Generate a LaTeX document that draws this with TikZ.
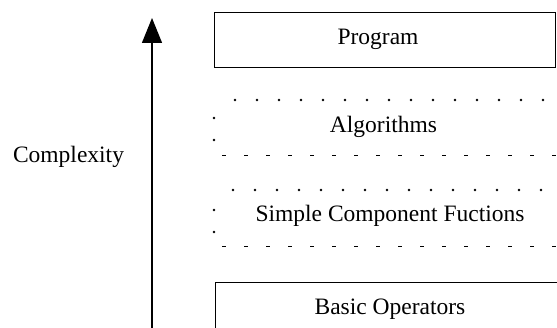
\documentclass[tikz,border=0pt]{standalone}
\usepackage{fontspec}
\setmainfont{Liberation Serif}
\usetikzlibrary{arrows.meta}

\begin{document}
\begin{tikzpicture}[x=1pt,y=-1pt,
  level/.style={draw,line width=1.3pt,inner sep=0pt,anchor=north west},
  open level/.style={inner sep=0pt,anchor=north west},
  caption/.style={anchor=base,inner sep=0pt,font=\fontsize{23.5}{26}\selectfont},
  dotrule/.style={line width=2.8pt,line cap=round,dash pattern=on 0pt off 22pt},
  dashrule/.style={line width=1.6pt,dash pattern=on 3.5pt off 18.5pt}]
\useasboundingbox (0,0) rectangle (557,328);
\clip (0,0) rectangle (557,328);

% the four levels, top to bottom
\node[level,minimum width=341pt,minimum height=55pt] (prog) at (214,12) {};
\node[open level,minimum width=343pt,minimum height=55pt] (algo) at (214,100) {};
\node[open level,minimum width=343pt,minimum height=56pt] (simple) at (214,190) {};
\node[level,minimum width=360pt,minimum height=60pt] (basic) at (215,282) {};

\node[caption] (progtxt) at (378,45) {Program};
\node[caption] (algotxt) at (383.5,133) {Algorithms};
\node[caption] (simpletxt) at (390,222) {Simple Component Fuctions};
\node[caption] (basictxt) at (390,315) {Basic Operators};

% loose edges of the middle levels
\draw[dotrule,dash phase=4pt] (algo.north west) -- (algo.south west);
\draw[dotrule,dash phase=1pt] (algo.north west) -- (algo.north east);
\draw[dashrule,dash phase=14pt] (algo.south west) -- (algo.south east);
\draw[dotrule,dash phase=2pt] (simple.north west) -- (simple.south west);
\draw[dotrule,dash phase=3pt] (simple.north west) -- (simple.north east);
\draw[dashrule,dash phase=14pt] (simple.south west) -- (simple.south east);

% complexity axis
\coordinate (low) at (152,330);
\coordinate (high) at (152,18);
\draw[line width=1.3pt,-{Triangle[width=20pt,length=25pt]}] (low) -- (high);
\node[caption] (cx) at (68.5,163) {Complexity};
\end{tikzpicture}
\end{document}
